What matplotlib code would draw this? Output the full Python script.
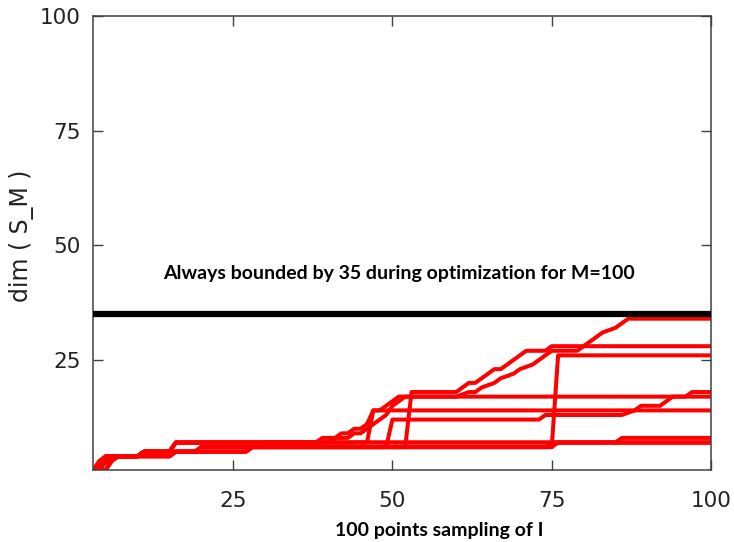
import matplotlib
matplotlib.use('Agg')
import matplotlib.pyplot as plt

# sample index / dim(S_M) vertices for each optimization run
run1_x = [1, 3, 4, 5, 10, 11, 15, 16, 38, 39, 41, 42, 43, 44, 45, 46, 47, 48, 49, 50, 51, 100]
run1_y = [1, 1, 3, 4, 4, 5, 5, 7, 7, 8, 8, 9, 9, 10, 10, 11, 14, 14, 15, 16, 17, 17]

run2_x = [1, 3, 4, 5, 6, 15, 16, 19, 20, 29, 30, 40, 41, 43, 44, 45, 46, 47, 48, 49, 50, 51, 52,
          60, 62, 63, 64, 66, 67, 69, 70, 72, 73, 74, 75, 79, 80, 81, 82, 83, 85, 86, 87, 100]
run2_y = [1, 1, 2, 3, 4, 4, 5, 5, 6, 6, 7, 7, 8, 8, 9, 9, 10, 11, 12, 13, 15, 16, 17,
          17, 18, 18, 19, 20, 21, 22, 23, 24, 25, 26, 27, 27, 28, 29, 30, 31, 32, 33, 34, 34]

run3_x = [1, 4, 5, 6, 10, 11, 27, 28, 75, 76, 100]
run3_y = [1, 1, 3, 4, 4, 5, 5, 6, 6, 26, 26]

run4_x = [1, 4, 5, 15, 16, 19, 20, 49, 50, 73, 74, 86, 88, 89, 92, 93, 94, 96, 97, 100]
run4_y = [1, 1, 4, 4, 5, 5, 6, 6, 12, 12, 13, 13, 14, 15, 15, 16, 17, 17, 18, 18]

run5_x = [1, 3, 4, 5, 6, 10, 11, 27, 28, 75, 76, 100]
run5_y = [1, 1, 2, 3, 4, 4, 5, 5, 6, 6, 7, 7]

run6_x = [1, 4, 5, 6, 10, 11, 15, 16, 46, 47, 100]
run6_y = [1, 1, 3, 4, 4, 5, 5, 7, 7, 14, 14]

run7_x = [1, 5, 6, 7, 10, 11, 27, 28, 52, 53, 60, 61, 62, 63, 64, 65, 66, 67, 68, 69, 70, 71, 74, 75, 100]
run7_y = [1, 1, 3, 4, 4, 5, 5, 6, 6, 18, 18, 19, 20, 20, 21, 22, 23, 23, 24, 25, 26, 27, 27, 28, 28]

run8_x = [1, 3, 4, 5, 10, 11, 15, 16, 85, 86, 100]
run8_y = [1, 1, 2, 4, 4, 5, 5, 7, 7, 8, 8]

run9_x = [1, 4, 5, 6, 15, 16, 19, 20, 74, 75, 100]
run9_y = [1, 1, 3, 4, 4, 5, 5, 6, 6, 7, 7]

run10_x = [1, 5, 6, 10, 11, 15, 16, 100]
run10_y = [1, 1, 4, 4, 5, 5, 7, 7]

RUNS = [
    (run1_x, run1_y), (run2_x, run2_y), (run3_x, run3_y), (run4_x, run4_y),
    (run5_x, run5_y), (run6_x, run6_y), (run7_x, run7_y), (run8_x, run8_y),
    (run9_x, run9_y), (run10_x, run10_y),
]

BOUND = 35
x_ticks = [25, 50, 75, 100]
y_ticks = [25, 50, 75, 100]


def main():
    fig = plt.figure(figsize=(7.34, 5.42), dpi=100)
    ax = fig.add_axes([0.1267, 0.1328, 0.842, 0.8377])

    for xs, ys in RUNS:
        ax.plot(xs, ys, color='#ff0000', linewidth=2.9, zorder=2)

    ax.axhline(BOUND, color='black', linewidth=4.5, zorder=3)

    ax.set_xlim(3, 100)
    ax.set_ylim(1, 100)
    ax.set_xticks(x_ticks)
    ax.set_yticks(y_ticks)
    ax.tick_params(direction='in', length=7, width=1, top=True, right=True,
                   color='#404040', labelcolor='#222222', labelsize=15.5)
    ax.tick_params(axis='x', pad=15)
    ax.tick_params(axis='y', pad=9)
    for sp in ax.spines.values():
        sp.set_color('#404040')
        sp.set_linewidth(1.1)

    ax.set_ylabel('dim ( S_M )', fontsize=17, color='#222222')
    ax.yaxis.set_label_coords(-0.095, 0.515)
    ax.set_xlabel('100 points sampling of I', fontsize=14, fontweight='bold',
                  family='Lato')
    ax.xaxis.set_label_coords(0.561, -0.115)

    ax.text(0.495, 0.432, 'Always bounded by 35 during optimization for M=100',
            transform=ax.transAxes, ha='center', va='center',
            fontsize=14, fontweight='bold', family='Lato')

    plt.savefig('out.png', dpi=100)


if __name__ == '__main__':
    main()
